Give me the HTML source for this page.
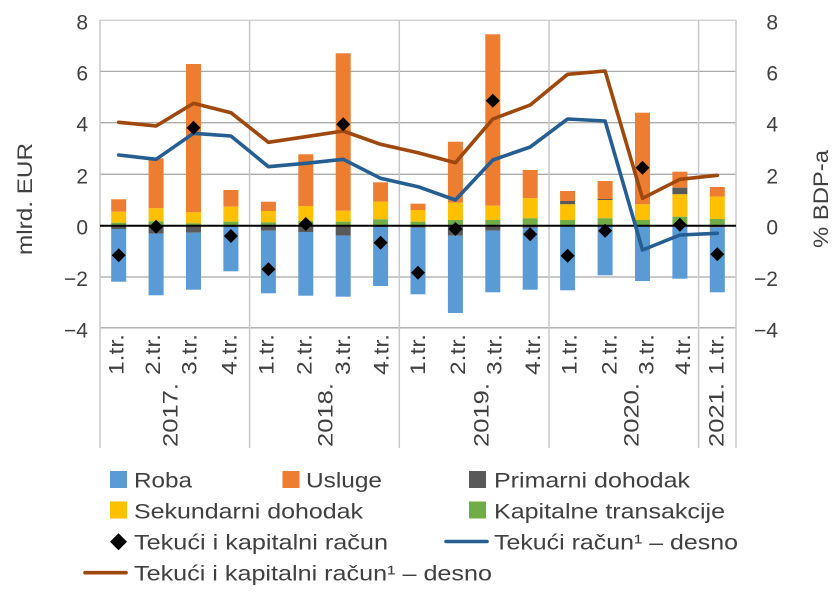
<!DOCTYPE html>
<html><head><meta charset="utf-8"><style>
html,body{margin:0;padding:0;background:#fff;}
svg{display:block;}
text{font-family:"Liberation Sans",Arial,sans-serif;fill:#404040;}
</style></head><body>
<svg width="840" height="600" viewBox="0 0 840 600" xmlns="http://www.w3.org/2000/svg">
<rect width="840" height="600" fill="#fff"/>
<!-- gridlines -->
<g stroke="#ABABAB" stroke-width="1.3">
<line x1="100" y1="20.3" x2="736" y2="20.3" stroke="#D0D0D0"/>
<line x1="100" y1="71.4" x2="736" y2="71.4"/>
<line x1="100" y1="122.7" x2="736" y2="122.7"/>
<line x1="100" y1="174.3" x2="736" y2="174.3"/>
<line x1="100" y1="277" x2="736" y2="277"/>
<line x1="100" y1="327.8" x2="736" y2="327.8"/>
</g>
<g stroke="#C8C8C8" stroke-width="1.5">
<line x1="100" y1="20" x2="100" y2="448"/>
<line x1="249.6" y1="20" x2="249.6" y2="448"/>
<line x1="399.3" y1="20" x2="399.3" y2="448"/>
<line x1="549" y1="20" x2="549" y2="448"/>
<line x1="698.6" y1="20" x2="698.6" y2="448"/>
<line x1="736" y1="20" x2="736" y2="448"/>
</g>
<!-- bars -->
<g>
<!-- 0 -->
<rect x="111.2" y="199.3" width="15" height="12.4" fill="#ED7D31"/>
<rect x="111.2" y="211.7" width="15" height="11" fill="#FFC000"/>
<rect x="111.2" y="222.7" width="15" height="3" fill="#70AD47"/>
<rect x="111.2" y="225.7" width="15" height="3.3" fill="#595959"/>
<rect x="111.2" y="229" width="15" height="52.7" fill="#5B9BD5"/>
<!-- 1 -->
<rect x="148.6" y="158.3" width="15" height="50" fill="#ED7D31"/>
<rect x="148.6" y="208.3" width="15" height="13" fill="#FFC000"/>
<rect x="148.6" y="221.3" width="15" height="4.4" fill="#70AD47"/>
<rect x="148.6" y="225.7" width="15" height="8" fill="#595959"/>
<rect x="148.6" y="233.7" width="15" height="61.6" fill="#5B9BD5"/>
<!-- 2 -->
<rect x="186" y="64" width="15" height="148.3" fill="#ED7D31"/>
<rect x="186" y="212.3" width="15" height="11" fill="#FFC000"/>
<rect x="186" y="223.3" width="15" height="2.4" fill="#70AD47"/>
<rect x="186" y="225.7" width="15" height="7" fill="#595959"/>
<rect x="186" y="232.7" width="15" height="57" fill="#5B9BD5"/>
<!-- 3 -->
<rect x="223.4" y="190" width="15" height="16.7" fill="#ED7D31"/>
<rect x="223.4" y="206.7" width="15" height="15" fill="#FFC000"/>
<rect x="223.4" y="221.7" width="15" height="4" fill="#70AD47"/>
<rect x="223.4" y="225.7" width="15" height="1.3" fill="#595959"/>
<rect x="223.4" y="227" width="15" height="44.3" fill="#5B9BD5"/>
<!-- 4 -->
<rect x="260.9" y="201.7" width="15" height="9.3" fill="#ED7D31"/>
<rect x="260.9" y="211" width="15" height="11.3" fill="#FFC000"/>
<rect x="260.9" y="222.3" width="15" height="3.4" fill="#70AD47"/>
<rect x="260.9" y="225.7" width="15" height="5" fill="#595959"/>
<rect x="260.9" y="230.7" width="15" height="62.6" fill="#5B9BD5"/>
<!-- 5 -->
<rect x="298.3" y="154.3" width="15" height="51.7" fill="#ED7D31"/>
<rect x="298.3" y="206" width="15" height="15" fill="#FFC000"/>
<rect x="298.3" y="221" width="15" height="4.7" fill="#70AD47"/>
<rect x="298.3" y="225.7" width="15" height="6.3" fill="#595959"/>
<rect x="298.3" y="232" width="15" height="63.7" fill="#5B9BD5"/>
<!-- 6 -->
<rect x="335.7" y="53.3" width="15" height="157.4" fill="#ED7D31"/>
<rect x="335.7" y="210.7" width="15" height="11" fill="#FFC000"/>
<rect x="335.7" y="221.7" width="15" height="4" fill="#70AD47"/>
<rect x="335.7" y="225.7" width="15" height="10" fill="#595959"/>
<rect x="335.7" y="235.7" width="15" height="61" fill="#5B9BD5"/>
<!-- 7 -->
<rect x="373.1" y="182.3" width="15" height="19.4" fill="#ED7D31"/>
<rect x="373.1" y="201.7" width="15" height="17.6" fill="#FFC000"/>
<rect x="373.1" y="219.3" width="15" height="6.4" fill="#70AD47"/>
<rect x="373.1" y="225.7" width="15" height="1.3" fill="#595959"/>
<rect x="373.1" y="227" width="15" height="59" fill="#5B9BD5"/>
<!-- 8 -->
<rect x="410.5" y="203.7" width="15" height="6.3" fill="#ED7D31"/>
<rect x="410.5" y="210" width="15" height="11.7" fill="#FFC000"/>
<rect x="410.5" y="221.7" width="15" height="4" fill="#70AD47"/>
<rect x="410.5" y="225.7" width="15" height="2" fill="#595959"/>
<rect x="410.5" y="227.7" width="15" height="66.6" fill="#5B9BD5"/>
<!-- 9 -->
<rect x="447.9" y="141.7" width="15" height="61" fill="#ED7D31"/>
<rect x="447.9" y="202.7" width="15" height="17.3" fill="#FFC000"/>
<rect x="447.9" y="220" width="15" height="5.7" fill="#70AD47"/>
<rect x="447.9" y="225.7" width="15" height="10" fill="#595959"/>
<rect x="447.9" y="235.7" width="15" height="77.3" fill="#5B9BD5"/>
<!-- 10 -->
<rect x="485.3" y="34.3" width="15" height="171.4" fill="#ED7D31"/>
<rect x="485.3" y="205.7" width="15" height="14.3" fill="#FFC000"/>
<rect x="485.3" y="220" width="15" height="5.7" fill="#70AD47"/>
<rect x="485.3" y="225.7" width="15" height="5" fill="#595959"/>
<rect x="485.3" y="230.7" width="15" height="61.6" fill="#5B9BD5"/>
<!-- 11 -->
<rect x="522.7" y="170" width="15" height="28.3" fill="#ED7D31"/>
<rect x="522.7" y="198.3" width="15" height="20" fill="#FFC000"/>
<rect x="522.7" y="218.3" width="15" height="7.4" fill="#70AD47"/>
<rect x="522.7" y="225.7" width="15" height="2" fill="#595959"/>
<rect x="522.7" y="227.7" width="15" height="62" fill="#5B9BD5"/>
<!-- 12 -->
<rect x="560.1" y="191" width="15" height="10" fill="#ED7D31"/>
<rect x="560.1" y="201" width="15" height="3.3" fill="#595959"/>
<rect x="560.1" y="204.3" width="15" height="15.7" fill="#FFC000"/>
<rect x="560.1" y="220" width="15" height="5.7" fill="#70AD47"/>
<rect x="560.1" y="225.7" width="15" height="64.6" fill="#5B9BD5"/>
<!-- 13 -->
<rect x="597.6" y="181" width="15" height="18" fill="#ED7D31"/>
<rect x="597.6" y="199" width="15" height="1" fill="#595959"/>
<rect x="597.6" y="200" width="15" height="18.3" fill="#FFC000"/>
<rect x="597.6" y="218.3" width="15" height="7.4" fill="#70AD47"/>
<rect x="597.6" y="225.7" width="15" height="49.6" fill="#5B9BD5"/>
<!-- 14 -->
<rect x="635" y="112.7" width="15" height="91.6" fill="#ED7D31"/>
<rect x="635" y="204.3" width="15" height="15.7" fill="#FFC000"/>
<rect x="635" y="220" width="15" height="5.7" fill="#70AD47"/>
<rect x="635" y="225.7" width="15" height="55.3" fill="#5B9BD5"/>
<!-- 15 -->
<rect x="672.4" y="171.7" width="15" height="16" fill="#ED7D31"/>
<rect x="672.4" y="187.7" width="15" height="6.6" fill="#595959"/>
<rect x="672.4" y="194.3" width="15" height="22.4" fill="#FFC000"/>
<rect x="672.4" y="216.7" width="15" height="9" fill="#70AD47"/>
<rect x="672.4" y="225.7" width="15" height="53" fill="#5B9BD5"/>
<!-- 16 -->
<rect x="709.8" y="187" width="15" height="9.7" fill="#ED7D31"/>
<rect x="709.8" y="196.7" width="15" height="22.3" fill="#FFC000"/>
<rect x="709.8" y="219" width="15" height="6.7" fill="#70AD47"/>
<rect x="709.8" y="225.7" width="15" height="1.6" fill="#595959"/>
<rect x="709.8" y="227.3" width="15" height="65" fill="#5B9BD5"/>
</g>
<!-- zero line -->
<line x1="100" y1="225.7" x2="736" y2="225.7" stroke="#000" stroke-width="2"/>
<!-- lines -->
<polyline fill="none" stroke="#9E480E" stroke-width="3.6" stroke-linejoin="round" stroke-linecap="round"
points="118.7,122.3 156.1,126 193.5,103.3 230.9,112.7 268.4,142.3 305.8,136.7 343.2,131 380.6,144.3 418,152.7 455.4,162.7 492.8,119 530.2,105 567.6,74.3 605.1,71 642.5,198.3 679.9,179.3 717.3,175.3"/>
<polyline fill="none" stroke="#255E91" stroke-width="3.6" stroke-linejoin="round" stroke-linecap="round"
points="118.7,155 156.1,159.3 193.5,133.3 230.9,136 268.4,166.7 305.8,163.3 343.2,159.3 380.6,178.3 418,186.7 455.4,200 492.8,160 530.2,147 567.6,119 605.1,121 642.5,250 679.9,235 717.3,233.3"/>
<!-- diamonds -->
<g fill="#000">
<path d="M118.7,248.3 L125.7,255.3 L118.7,262.3 L111.7,255.3 Z"/>
<path d="M156.1,219.7 L163.1,226.7 L156.1,233.7 L149.1,226.7 Z"/>
<path d="M193.5,120.7 L200.5,127.7 L193.5,134.7 L186.5,127.7 Z"/>
<path d="M230.9,229 L237.9,236 L230.9,243 L223.9,236 Z"/>
<path d="M268.4,262.3 L275.4,269.3 L268.4,276.3 L261.4,269.3 Z"/>
<path d="M305.8,217 L312.8,224 L305.8,231 L298.8,224 Z"/>
<path d="M343.2,117.3 L350.2,124.3 L343.2,131.3 L336.2,124.3 Z"/>
<path d="M380.6,235.7 L387.6,242.7 L380.6,249.7 L373.6,242.7 Z"/>
<path d="M418,265.7 L425,272.7 L418,279.7 L411,272.7 Z"/>
<path d="M455.4,222 L462.4,229 L455.4,236 L448.4,229 Z"/>
<path d="M492.8,93.7 L499.8,100.7 L492.8,107.7 L485.8,100.7 Z"/>
<path d="M530.2,227.3 L537.2,234.3 L530.2,241.3 L523.2,234.3 Z"/>
<path d="M567.6,248.7 L574.6,255.7 L567.6,262.7 L560.6,255.7 Z"/>
<path d="M605.1,223.7 L612.1,230.7 L605.1,237.7 L598.1,230.7 Z"/>
<path d="M642.5,160.7 L649.5,167.7 L642.5,174.7 L635.5,167.7 Z"/>
<path d="M679.9,217.7 L686.9,224.7 L679.9,231.7 L672.9,224.7 Z"/>
<path d="M717.3,247.3 L724.3,254.3 L717.3,261.3 L710.3,254.3 Z"/>
</g>
<!-- left ticks -->
<g font-size="21" text-anchor="end">
<text x="88" y="29.3">8</text>
<text x="88" y="80.4">6</text>
<text x="88" y="131.7">4</text>
<text x="88" y="183.3">2</text>
<text x="88" y="234.7">0</text>
<text x="88" y="286">−2</text>
<text x="88" y="337.3">−4</text>
</g>
<g font-size="21" text-anchor="end">
<text x="778" y="29.3">8</text>
<text x="778" y="80.4">6</text>
<text x="778" y="131.7">4</text>
<text x="778" y="183.3">2</text>
<text x="778" y="234.7">0</text>
<text x="778" y="286">−2</text>
<text x="778" y="337.3">−4</text>
</g>
<!-- axis titles -->
<text font-size="21" transform="translate(32,255) rotate(-90)" textLength="112" lengthAdjust="spacingAndGlyphs">mlrd. EUR</text>
<text font-size="21" transform="translate(828,248) rotate(-90)" textLength="98" lengthAdjust="spacingAndGlyphs">% BDP-a</text>
<!-- quarter labels -->
<g font-size="21">
<text transform="translate(123.3,375) rotate(-90)" textLength="41" lengthAdjust="spacingAndGlyphs">1.tr.</text>
<text transform="translate(160,375) rotate(-90)" textLength="41" lengthAdjust="spacingAndGlyphs">2.tr.</text>
<text transform="translate(196.7,375) rotate(-90)" textLength="41" lengthAdjust="spacingAndGlyphs">3.tr.</text>
<text transform="translate(236.7,375) rotate(-90)" textLength="41" lengthAdjust="spacingAndGlyphs">4.tr.</text>
<text transform="translate(273.3,375) rotate(-90)" textLength="41" lengthAdjust="spacingAndGlyphs">1.tr.</text>
<text transform="translate(311.7,375) rotate(-90)" textLength="41" lengthAdjust="spacingAndGlyphs">2.tr.</text>
<text transform="translate(350,375) rotate(-90)" textLength="41" lengthAdjust="spacingAndGlyphs">3.tr.</text>
<text transform="translate(388.3,375) rotate(-90)" textLength="41" lengthAdjust="spacingAndGlyphs">4.tr.</text>
<text transform="translate(425,375) rotate(-90)" textLength="41" lengthAdjust="spacingAndGlyphs">1.tr.</text>
<text transform="translate(465,375) rotate(-90)" textLength="41" lengthAdjust="spacingAndGlyphs">2.tr.</text>
<text transform="translate(501.7,375) rotate(-90)" textLength="41" lengthAdjust="spacingAndGlyphs">3.tr.</text>
<text transform="translate(540,375) rotate(-90)" textLength="41" lengthAdjust="spacingAndGlyphs">4.tr.</text>
<text transform="translate(576.7,375) rotate(-90)" textLength="41" lengthAdjust="spacingAndGlyphs">1.tr.</text>
<text transform="translate(616.7,375) rotate(-90)" textLength="41" lengthAdjust="spacingAndGlyphs">2.tr.</text>
<text transform="translate(653.3,375) rotate(-90)" textLength="41" lengthAdjust="spacingAndGlyphs">3.tr.</text>
<text transform="translate(690,375) rotate(-90)" textLength="41" lengthAdjust="spacingAndGlyphs">4.tr.</text>
<text transform="translate(723.3,375) rotate(-90)" textLength="41" lengthAdjust="spacingAndGlyphs">1.tr.</text>
</g>
<g font-size="21">
<text transform="translate(177.3,447) rotate(-90)" textLength="64" lengthAdjust="spacingAndGlyphs">2017.</text>
<text transform="translate(332.3,447) rotate(-90)" textLength="64" lengthAdjust="spacingAndGlyphs">2018.</text>
<text transform="translate(488.3,447) rotate(-90)" textLength="64" lengthAdjust="spacingAndGlyphs">2019.</text>
<text transform="translate(638.3,447) rotate(-90)" textLength="64" lengthAdjust="spacingAndGlyphs">2020.</text>
<text transform="translate(723.3,447) rotate(-90)" textLength="64" lengthAdjust="spacingAndGlyphs">2021.</text>
</g>
<!-- legend -->
<rect x="110" y="471" width="17" height="17" fill="#5B9BD5"/>
<rect x="282.5" y="471" width="17" height="17" fill="#ED7D31"/>
<rect x="469" y="471" width="17" height="17" fill="#595959"/>
<rect x="110" y="501.5" width="17" height="17" fill="#FFC000"/>
<rect x="469" y="501.5" width="17" height="17" fill="#70AD47"/>
<path d="M118.5,533.2 L127,541.7 L118.5,550.2 L110,541.7 Z" fill="#000"/>
<line x1="446" y1="541.5" x2="487" y2="541.5" stroke="#255E91" stroke-width="3.6" stroke-linecap="round"/>
<line x1="85" y1="572.7" x2="126" y2="572.7" stroke="#9E480E" stroke-width="3.6" stroke-linecap="round"/>
<g font-size="21">
<text x="134" y="487.5" textLength="58" lengthAdjust="spacingAndGlyphs">Roba</text>
<text x="306" y="487.5" textLength="76" lengthAdjust="spacingAndGlyphs">Usluge</text>
<text x="494" y="487.5" textLength="196" lengthAdjust="spacingAndGlyphs">Primarni dohodak</text>
<text x="134" y="518.5" textLength="229" lengthAdjust="spacingAndGlyphs">Sekundarni dohodak</text>
<text x="494" y="518.5" textLength="231" lengthAdjust="spacingAndGlyphs">Kapitalne transakcije</text>
<text x="134" y="549.5" textLength="254" lengthAdjust="spacingAndGlyphs">Tekući i kapitalni račun</text>
<text x="494" y="549.5" textLength="244" lengthAdjust="spacingAndGlyphs">Tekući račun¹ – desno</text>
<text x="134" y="580.5" textLength="358" lengthAdjust="spacingAndGlyphs">Tekući i kapitalni račun¹ – desno</text>
</g>
</svg>
</body></html>
